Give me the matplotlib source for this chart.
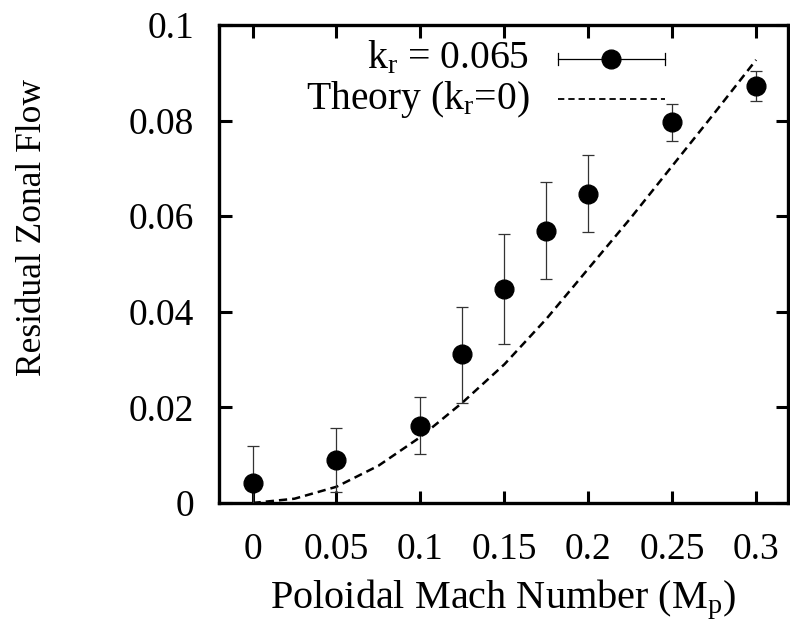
import matplotlib

matplotlib.use("Agg")

import matplotlib.pyplot as plt

plt.rcParams["font.family"] = ["Liberation Serif", "DejaVu Serif"]
plt.rcParams["mathtext.default"] = "regular"

TICK_FS = 27
LABEL_FS = 29
KEY_FS = 28.5

# simulation, k_r = 0.065
mach = [0.0, 0.05, 0.1, 0.125, 0.15, 0.175, 0.2, 0.25, 0.3]
flow = [0.0042, 0.0090, 0.0161, 0.0312, 0.0448, 0.0569, 0.0647, 0.0797, 0.0872]
err_hi = [0.0119, 0.0157, 0.0222, 0.0410, 0.0563, 0.0672, 0.0728, 0.0835, 0.0904]
err_lo = [-0.003, 0.0023, 0.0103, 0.0209, 0.0333, 0.0469, 0.0567, 0.0757, 0.0841]

# theory, k_r = 0
mach_th = [0.0, 0.025, 0.05, 0.075, 0.1, 0.125, 0.15, 0.175, 0.2, 0.225, 0.25, 0.275, 0.3]
flow_th = [0.0, 0.0009, 0.0034, 0.0078, 0.0138, 0.021, 0.029, 0.0385, 0.049,
           0.0595, 0.0705, 0.0815, 0.0927]

xticks = [0, 0.05, 0.1, 0.15, 0.2, 0.25, 0.3]
xtick_labels = ["0", "0.05", "0.1", "0.15", "0.2", "0.25", "0.3"]
yticks = [0, 0.02, 0.04, 0.06, 0.08, 0.1]
ytick_labels = ["0", "0.02", "0.04", "0.06", "0.08", "0.1"]

fig = plt.figure(figsize=(7.9, 6.3), dpi=100)
ax = fig.add_axes([219 / 790, 1 - 503 / 630, 569 / 790, 478 / 630])

yerr = [[f - lo for f, lo in zip(flow, err_lo)], [hi - f for f, hi in zip(flow, err_hi)]]
ax.errorbar(mach, flow, yerr=yerr, fmt="o", color="black", ms=13.5, elinewidth=0.9,
            ecolor="#333333", capsize=4.5, capthick=0.9, zorder=3)
ax.plot(mach_th, flow_th, color="black", lw=1.8, ls=(0, (3.3, 2.0)), zorder=2)

ax.set_xlim(-0.02, 0.319)
ax.set_ylim(0, 0.1)
ax.set_xticks(xticks)
ax.set_xticklabels(xtick_labels)
ax.set_yticks(yticks)
ax.set_yticklabels(ytick_labels)
ax.tick_params(direction="in", length=9, width=2.2, labelsize=TICK_FS, top=True, right=True)
ax.tick_params(axis="y", pad=18)
ax.tick_params(axis="x", pad=21)
for s in ax.spines.values():
    s.set_linewidth(2.4)

ax.set_xlabel("Poloidal Mach Number (M$_p$)", fontsize=LABEL_FS, labelpad=8)
fig.text(33 / 790, 1 - 227 / 630, "Residual Zonal Flow", fontsize=25.5, rotation=90,
         ha="center", va="center")

# gnuplot-style key: text right aligned, sample to the right
tr = ax.transAxes
ax.text(0.545, 0.929, "k$_r$ = 0.065", fontsize=KEY_FS, ha="right", va="center", transform=tr)
ax.plot([0.595, 0.784], [0.929, 0.929], color="black", lw=0.9, transform=tr)
ax.plot([0.595, 0.595], [0.917, 0.941], color="black", lw=0.9, transform=tr)
ax.plot([0.784, 0.784], [0.917, 0.941], color="black", lw=0.9, transform=tr)
ax.plot([0.689], [0.929], "o", color="black", ms=13.5, transform=tr)
ax.text(0.545, 0.845, "Theory (k$_r$=0)", fontsize=KEY_FS, ha="right", va="center", transform=tr)
ax.plot([0.595, 0.784], [0.845, 0.845], color="black", lw=1.3, ls=(0, (3.5, 2.2)),
        transform=tr)

fig.savefig("out.png", dpi=100)
